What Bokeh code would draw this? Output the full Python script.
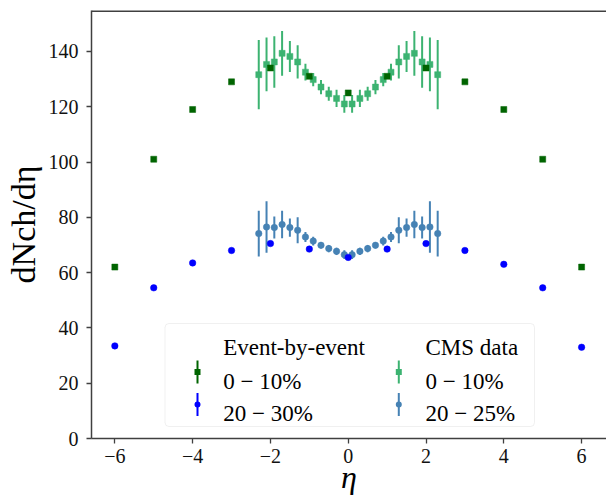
import numpy as np
from bokeh.plotting import figure
from bokeh.models import (Label, BoxAnnotation, FixedTicker, CustomJSTickFormatter,
                          Range1d, ColumnDataSource)
from bokeh.embed import file_html
from bokeh.resources import INLINE

# ---------------- data ----------------
eta_ebe = [-6, -5, -4, -3, -2, -1, 0, 1, 2, 3, 4, 5, 6]
ebe_0_10 = [62, 101, 119, 129, 134, 131, 125, 131, 134, 129, 119, 101, 62]
ebe_20_30 = [33.5, 54.5, 63.5, 68, 70.5, 68.5, 65.5, 68.5, 70.5, 68, 63, 54.5, 33]

eta_cms = [-2.3, -2.1, -1.9, -1.7, -1.5, -1.3, -1.1, -0.9, -0.7, -0.5, -0.3, -0.1,
           0.1, 0.3, 0.5, 0.7, 0.9, 1.1, 1.3, 1.5, 1.7, 1.9, 2.1, 2.3]
cms_0_10 = [131.6, 135.3, 136.2, 139.3, 138.2, 136.2, 132.5, 129.8, 127.1, 124.7, 123.0, 121.0,
            121.0, 123.0, 124.7, 127.1, 129.8, 132.5, 136.2, 138.2, 139.3, 136.2, 135.3, 131.6]
cms_0_10_err = [12.5, 9.7, 9.3, 8.1, 5.6, 6.0, 3.0, 2.4, 2.6, 2.5, 3.1, 3.2,
                3.2, 3.1, 2.5, 2.6, 2.4, 3.0, 6.0, 5.6, 8.1, 9.3, 9.7, 12.5]
cms_20_25 = [74.1, 76.5, 76.3, 77.4, 76.3, 75.3, 72.9, 71.4, 69.9, 68.7, 67.7, 66.5,
             66.5, 67.7, 68.7, 69.9, 71.4, 72.9, 75.3, 76.3, 77.4, 76.3, 76.5, 74.1]
cms_20_25_err = [8.3, 9.3, 4.0, 5.0, 3.3, 4.7, 1.8, 1.6, 1.2, 1.3, 1.3, 1.6,
                 1.6, 1.3, 1.3, 1.2, 1.6, 1.8, 4.7, 3.3, 5.0, 4.0, 9.3, 8.3]

x_ticks = [-6, -4, -2, 0, 2, 4, 6]
y_ticks = [0, 20, 40, 60, 80, 100, 120, 140]
x_title = "\u03b7"
y_title = "dNch/d\u03b7"

legend_headers = ["Event-by-event", "CMS data"]
legend_labels = [["0 \u2212 10%", "20 \u2212 30%"], ["0 \u2212 10%", "20 \u2212 25%"]]

C_EBE0 = "#006400"
C_EBE20 = "#0000ff"
C_CMS0 = "#3cb371"
C_CMS20 = "#4682b4"
FONT = "Liberation Serif"
SPINE = "#404040"

W, H = 606, 502
FRAME_L, FRAME_T, FRAME_B = 91, 10, 438

# ---------------- figure ----------------
p = figure(width=W, height=H, output_backend="svg", toolbar_location=None,
           x_range=Range1d(-6.6, 6.64), y_range=Range1d(0, 154.8),
           min_border_left=FRAME_L, min_border_right=0,
           min_border_top=FRAME_T, min_border_bottom=H - FRAME_B)
p.grid.visible = False
p.background_fill_color = "white"
p.border_fill_color = "white"
p.outline_line_color = None

for ax in (p.xaxis[0], p.yaxis[0]):
    ax.axis_line_color = SPINE
    ax.axis_line_width = 1.5
    ax.major_tick_line_color = SPINE
    ax.major_tick_line_width = 1.3
    ax.major_tick_out = 5
    ax.major_tick_in = 0
    ax.minor_tick_line_color = None
    ax.major_label_text_font = FONT
    ax.major_label_text_font_size = "20px"
    ax.major_label_text_color = "#111111"
    ax.axis_label_text_font = FONT
    ax.axis_label_text_color = "#000000"

p.xaxis.ticker = FixedTicker(ticks=x_ticks)
p.yaxis.ticker = FixedTicker(ticks=y_ticks)
p.xaxis.formatter = CustomJSTickFormatter(
    code="return tick < 0 ? '\\u2212' + Math.abs(tick) : String(tick);")
p.xaxis.major_label_standoff = 5
p.yaxis.major_label_standoff = 8

p.xaxis.axis_label = x_title
p.xaxis.axis_label_text_font_size = "32px"
p.xaxis.axis_label_text_font_style = "italic"
p.xaxis.axis_label_standoff = -7

p.yaxis.axis_label = y_title
p.yaxis.axis_label_text_font_size = "34px"
p.yaxis.axis_label_text_font_style = "normal"
p.yaxis.axis_label_standoff = 4

FB = FRAME_B
FH = FRAME_B - FRAME_T

# top spine (inside the frame, at its upper edge)
p.add_layout(BoxAnnotation(left=0, right=W, bottom=FH - 1.5, top=FH + 2,
                           left_units="screen", right_units="screen",
                           top_units="screen", bottom_units="screen",
                           fill_color=SPINE, fill_alpha=1.0, line_color=None))

# ---------------- CMS data with error bars ----------------
cms0 = ColumnDataSource(dict(
    x=eta_cms, y=cms_0_10,
    lo=[v - e for v, e in zip(cms_0_10, cms_0_10_err)],
    hi=[v + e for v, e in zip(cms_0_10, cms_0_10_err)]))
cms20 = ColumnDataSource(dict(
    x=eta_cms, y=cms_20_25,
    lo=[v - e for v, e in zip(cms_20_25, cms_20_25_err)],
    hi=[v + e for v, e in zip(cms_20_25, cms_20_25_err)]))

p.segment(x0="x", y0="lo", x1="x", y1="hi", source=cms0, line_color=C_CMS0, line_width=2)
p.scatter(x="x", y="y", source=cms0, marker="square", size=6,
          fill_color=C_CMS0, line_color=C_CMS0, line_width=0.5)
p.segment(x0="x", y0="lo", x1="x", y1="hi", source=cms20, line_color=C_CMS20, line_width=2)
p.scatter(x="x", y="y", source=cms20, marker="circle", size=6.5,
          fill_color=C_CMS20, line_color=C_CMS20, line_width=0.5)

# ---------------- event-by-event ----------------
p.scatter(x=eta_ebe, y=ebe_0_10, marker="square", size=6,
          fill_color=C_EBE0, line_color=C_EBE0, line_width=0.5)
p.scatter(x=eta_ebe, y=ebe_20_30, marker="circle", size=6.5,
          fill_color=C_EBE20, line_color=C_EBE20, line_width=0.5)


# ---------------- legend (page coordinates -> frame screen coordinates) ----------------
def lab(text, cx, cy, size, style="normal"):
    p.add_layout(Label(x=cx - FRAME_L, y=FB - cy, x_units="screen", y_units="screen",
                       text=text, text_font=FONT, text_font_size=size, text_font_style=style,
                       text_color="#000000", text_align="left", text_baseline="alphabetic"))


def box(l, r, t, b, color, radius=0, line=None):
    p.add_layout(BoxAnnotation(left=l - FRAME_L, right=r - FRAME_L, top=FB - t, bottom=FB - b,
                               left_units="screen", right_units="screen",
                               top_units="screen", bottom_units="screen",
                               fill_color=color, fill_alpha=1.0,
                               line_color=line, line_width=1, border_radius=int(radius)))


box(164.5, 534, 323, 426, "white", radius=4, line="#cccccc")
col_x = [222.7, 425]
mark_x = [197, 398.3]
row_base = [346.5, 381, 413]
row_mid = [371.5, 404]
colors = [[C_EBE0, C_EBE20], [C_CMS0, C_CMS20]]
shapes = ["square", "circle"]
for c in range(2):
    lab(legend_headers[c], col_x[c], row_base[0], "23px")
    for r in range(2):
        lab(legend_labels[c][r], col_x[c], row_base[r + 1], "23px")
        mx, my = mark_x[c], row_mid[r]
        box(mx - 1, mx + 1, my - 11.5, my + 11.5, colors[c][r])
        rad = 0 if shapes[r] == "square" else 3
        box(mx - 3, mx + 3, my - 3, my + 3, colors[c][r], radius=rad)

open("out.html", "w").write(file_html(p, INLINE))
